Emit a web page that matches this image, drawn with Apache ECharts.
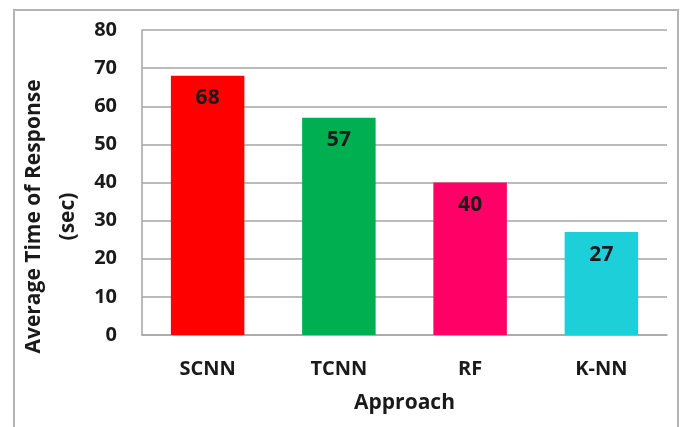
<!DOCTYPE html>
<html>
<head>
<meta charset="utf-8">
<script src="https://cdn.jsdelivr.net/npm/echarts@6/dist/echarts.min.js"></script>
<style>
  html, body { margin: 0; padding: 0; background: #fff; }
  #frame { position: absolute; left: 13px; top: 9px; width: 666px; height: 430px; border: 2px solid #b4b4b4; box-sizing: border-box; }
  #chart { position: absolute; left: 0; top: 0; width: 685px; height: 427px; }
</style>
</head>
<body>
<div id="frame"></div>
<div id="chart"></div>
<script>
// Average response time per approach
const approaches = ['SCNN', 'TCNN', 'RF', 'K-NN'];
const responseTimes = [68, 57, 40, 27];
const barColors = ['#ff0000', '#00b050', '#ff0066', '#1ccfd8'];
const yTicks = { min: 0, max: 80, interval: 10 };

const font = '"Open Sans", "Noto Sans", sans-serif';
const textColor = '#1a1a1a';
const chart = echarts.init(document.getElementById('chart'), null, { renderer: 'canvas' });

chart.setOption({
  animation: false,
  grid: { left: 142, right: 18, top: 30, bottom: 92, containLabel: false, outerBoundsMode: 'none' },
  xAxis: {
    type: 'category',
    data: approaches,
    name: 'Approach',
    nameLocation: 'middle',
    nameGap: 58,
    nameMoveOverlap: false,
    nameTextStyle: { fontFamily: font, fontWeight: 'bold', fontSize: 21, color: textColor },
    axisLine: { lineStyle: { color: '#a6a6a6', width: 1.5 } },
    axisTick: { show: false },
    axisLabel: { fontFamily: font, fontWeight: 'bold', fontSize: 20, color: textColor, margin: 24 }
  },
  yAxis: {
    type: 'value',
    min: yTicks.min,
    max: yTicks.max,
    interval: yTicks.interval,
    name: 'Average Time of Response\n(sec)',
    nameLocation: 'middle',
    nameGap: 57,
    nameMoveOverlap: false,
    nameRotate: 90,
    nameTextStyle: { fontFamily: font, fontWeight: 'bold', fontSize: 21, color: textColor, lineHeight: 34, padding: [0, 68, 0, 0] },
    axisLine: { show: true, lineStyle: { color: '#a6a6a6', width: 1.5 } },
    axisTick: { show: false },
    axisLabel: { fontFamily: font, fontWeight: 'bold', fontSize: 20, color: textColor, margin: 25 },
    splitLine: { lineStyle: { color: '#a6a6a6', width: 1.5 } }
  },
  series: [{
    type: 'bar',
    barWidth: '56%',
    data: responseTimes.map((v, i) => ({ value: v, itemStyle: { color: barColors[i] } })),
    label: {
      show: true,
      position: 'insideTop',
      distance: 12,
      fontFamily: font,
      fontWeight: 'bold',
      fontSize: 21,
      color: textColor
    }
  }]
});
</script>
</body>
</html>
